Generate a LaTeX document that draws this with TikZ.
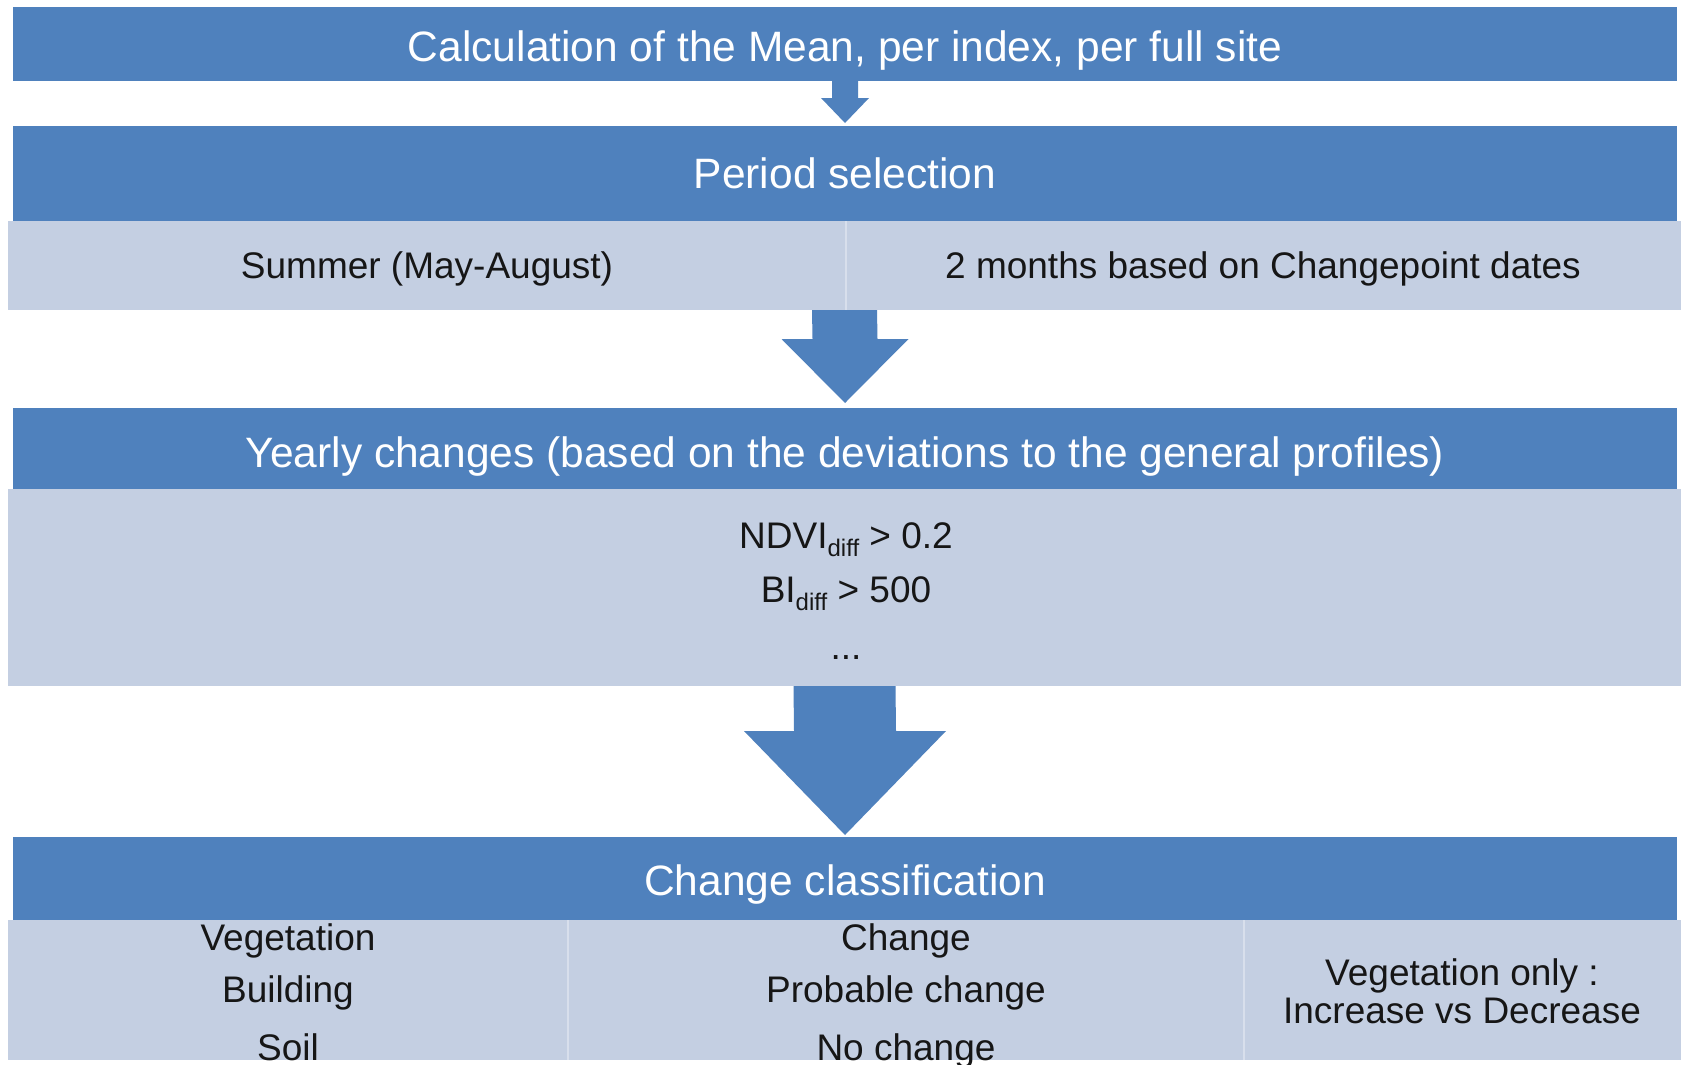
\documentclass[tikz,border=0pt]{standalone}
\usepackage{fontspec}
\setmainfont{Liberation Sans}
\usetikzlibrary{calc}

\definecolor{barblue}{RGB}{79,129,189}
\definecolor{cellfill}{RGB}{196,207,226}
\definecolor{cellrule}{RGB}{216,223,236}
\definecolor{celltext}{RGB}{22,22,22}

% block arrow: from node, to node, shaft half-width, head half-width, head length, gap above target
\newcommand\flowarrow[6]{%
  \fill[blockarrow] ($(#1.south)+(-#3,0)$) -- ($(#1.south)+(#3,0)$)
    -- ($(#2.north)+(#3,-#6-#5)$) -- ($(#2.north)+(#4,-#6-#5)$)
    -- ($(#2.north)+(0,-#6)$)
    -- ($(#2.north)+(-#4,-#6-#5)$) -- ($(#2.north)+(-#3,-#6-#5)$) -- cycle;}

\begin{document}
\begin{tikzpicture}[x=1pt,y=-1pt,
  header/.style={fill=barblue, inner sep=0pt, outer sep=0pt, anchor=north west},
  panel/.style={fill=cellfill, inner sep=0pt, outer sep=0pt, anchor=north west},
  headtext/.style={text=white, font=\fontsize{42.5}{50}\selectfont, anchor=base, inner sep=0pt},
  celltxt/.style={text=celltext, font=\fontsize{37}{44}\selectfont, anchor=base, inner sep=0pt},
  blockarrow/.style={fill=barblue},
  divider/.style={draw=cellrule, line width=2pt}]

\useasboundingbox[fill=white] (0,0) rectangle (1681,1065);

% step 1: mean per index
\node[header, minimum width=1664pt, minimum height=74pt] (mean) at (13,7) {};
\node[headtext] (meantxt) at (845,62) {Calculation of the Mean, per index, per full site};

% step 2: period selection
\node[header, minimum width=1664pt, minimum height=95pt] (period) at (13,126) {};
\node[headtext] (periodtxt) at (845,188) {Period selection};
\node[panel, minimum width=1673pt, minimum height=89pt] (pbody) at (8,221) {};
\draw[divider] ($(pbody.north west)+(838,0)$) -- ($(pbody.south west)+(838,0)$);
\node[celltxt] (summer) at (427,278) {Summer (May-August)};
\node[celltxt] (twomonths) at (1263,278) {2 months based on Changepoint dates};

% step 3: yearly changes
\node[header, minimum width=1664pt, minimum height=81pt] (yearly) at (13,408) {};
\node[headtext] (yearlytxt) at (845,467) {Yearly changes (based on the deviations to the general profiles)};
\node[panel, minimum width=1673pt, minimum height=197pt] (ybody) at (8,489) {};
\node[celltxt] (ndvi) at (846,548) {NDVI\raisebox{-8pt}{\fontsize{24}{24}\selectfont diff} > 0.2};
\node[celltxt] (bi) at (846,602) {BI\raisebox{-8pt}{\fontsize{24}{24}\selectfont diff} > 500};
\node[celltxt] (more) at (846,659) {...};

% step 4: change classification
\node[header, minimum width=1664pt, minimum height=83pt] (classif) at (13,837) {};
\node[headtext] (classiftxt) at (845,895) {Change classification};
\node[panel, minimum width=1673pt, minimum height=140pt] (cbody) at (8,920) {};
\draw[divider] ($(cbody.north west)+(560,0)$) -- ($(cbody.south west)+(560,0)$);
\draw[divider] ($(cbody.north west)+(1236,0)$) -- ($(cbody.south west)+(1236,0)$);
\node[celltxt] (veg) at (288,950) {Vegetation};
\node[celltxt] (build) at (288,1002) {Building};
\node[celltxt] (soil) at (288,1060) {Soil};
\node[celltxt] (chg) at (906,950) {Change};
\node[celltxt] (probchg) at (906,1002) {Probable change};
\node[celltxt] (nochg) at (906,1060) {No change};
\node[celltxt] (vegonly) at (1462,985) {Vegetation only :};
\node[celltxt] (incdec) at (1462,1023) {Increase vs Decrease};

% arrows between steps
\flowarrow{mean}{period}{13}{24}{25}{3}
\flowarrow{pbody}{yearly}{32.5}{63.5}{64}{5}
\flowarrow{ybody}{classif}{51}{101}{104}{2}
\end{tikzpicture}
\end{document}
